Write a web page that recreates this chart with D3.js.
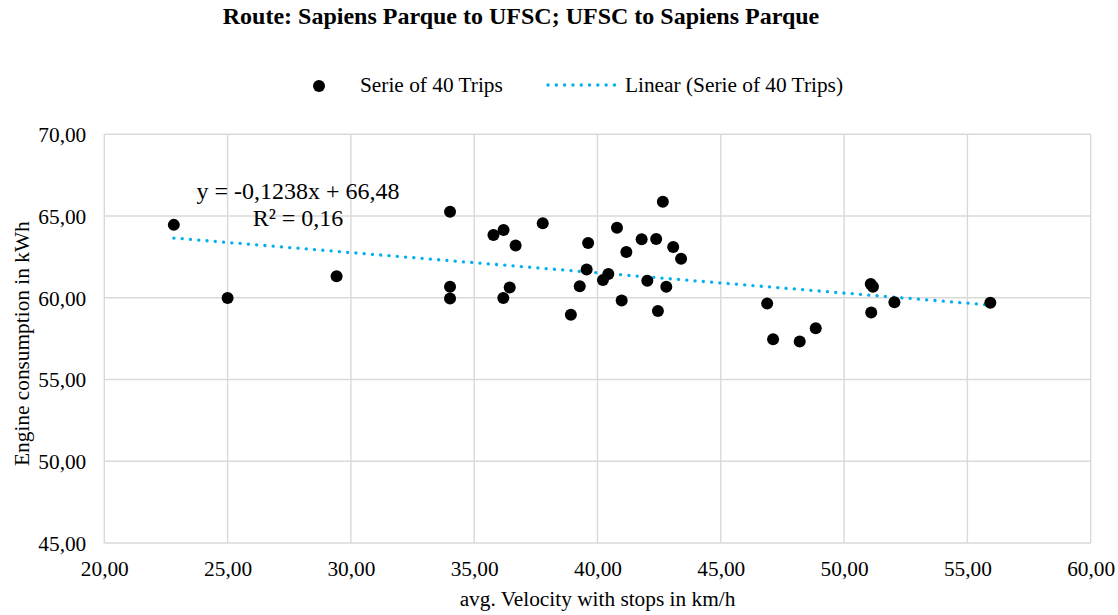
<!DOCTYPE html>
<html>
  <head>
  <title>Route scatter</title>
  </head>
  <body>
  <style>
    body, html {
      margin: 0;
      padding: 0;
      background: #fff;
    }
    text {
      font-family: "Liberation Serif", "Times New Roman", serif;
      fill: #000;
    }
  </style>

  <svg id="svg" width="1118" height="615"></svg>

  <script src="https://cdn.jsdelivr.net/npm/d3@7"></script>
  <script>
    // values
    const velocity = [
      22.82, 25.00, 29.42, 34.02, 34.02, 34.02, 35.78, 36.19, 36.68, 36.18,
      36.44, 37.78, 38.92, 39.28, 39.62, 39.56, 40.22, 40.44, 40.79, 41.17,
      40.98, 41.79, 42.38, 42.65, 42.02, 42.45, 42.79, 43.07, 43.39, 46.88,
      47.12, 48.20, 48.85, 51.08, 51.17, 51.10, 52.04, 55.93
    ]
    const consumption = [
      64.46, 59.98, 61.32, 65.26, 60.68, 59.95, 63.84, 64.14, 63.20, 59.99,
      60.63, 64.56, 58.96, 60.71, 63.35, 61.73, 61.08, 61.46, 64.29, 62.80,
      59.84, 63.58, 63.60, 65.87, 61.04, 59.19, 60.67, 63.10, 62.39, 59.65,
      57.47, 57.33, 58.13, 60.84, 60.67, 59.10, 59.73, 59.69
    ]
    const xTicks = [20, 25, 30, 35, 40, 45, 50, 55, 60]
    const yTicks = [45, 50, 55, 60, 65, 70]
    // trendline shown on the chart
    const trendSlope = -0.1238
    const trendIntercept = 66.48

    const points = velocity.map((v, i) => ({ x: v, y: consumption[i] }))
    const fmt = d => d3.format('.2f')(d).replace('.', ',')

    const svg = d3.select('#svg')
    const plotLeft = 104.3
    const plotRight = 1090.7
    const plotTop = 134.3
    const plotBottom = 543

    const xScale = d3.scaleLinear().domain([20, 60]).range([plotLeft, plotRight])
    const yScale = d3.scaleLinear().domain([45, 70]).range([plotBottom, plotTop])

    // gridlines
    const grid = svg.append('g')
    grid.selectAll('.vx')
      .data(xTicks)
      .join('line')
      .attr('x1', d => xScale(d)).attr('x2', d => xScale(d))
      .attr('y1', plotTop).attr('y2', plotBottom)
      .attr('stroke', '#d9d9d9')
      .attr('stroke-width', 1.4)
    grid.selectAll('.hy')
      .data(yTicks)
      .join('line')
      .attr('x1', plotLeft).attr('x2', plotRight)
      .attr('y1', d => yScale(d)).attr('y2', d => yScale(d))
      .attr('stroke', '#d9d9d9')
      .attr('stroke-width', 1.4)

    // axes (labels only)
    const bottomAxis = d3.axisBottom(xScale).tickValues(xTicks).tickFormat(fmt).tickSize(0).tickPadding(18)
    const leftAxis = d3.axisLeft(yScale).tickValues(yTicks).tickFormat(fmt).tickSize(0).tickPadding(18)
    const gx = svg.append('g')
      .attr('transform', `translate(0, ${plotBottom})`)
      .call(bottomAxis)
    const gy = svg.append('g')
      .attr('transform', `translate(${plotLeft}, 0)`)
      .call(leftAxis)
    gx.select('.domain').remove()
    gy.select('.domain').remove()
    svg.selectAll('.tick text')
      .attr('fill', '#000')
      .style('font-family', '"Liberation Serif", serif')
      .style('font-size', '21.33px')
    gy.selectAll('.tick text').attr('dy', '0.34em')
    gx.selectAll('.tick text').attr('dy', '0.7em')

    // trendline
    const xr = d3.extent(velocity)
    const trend = xr.map(x => ({ x: x, y: trendSlope * x + trendIntercept }))
    const linegen = d3.line()
      .x(d => xScale(d.x))
      .y(d => yScale(d.y))
    svg.append('path')
      .attr('d', linegen(trend))
      .attr('fill', 'none')
      .attr('stroke', '#00b0f0')
      .attr('stroke-width', 3.3)
      .attr('stroke-linecap', 'round')
      .attr('stroke-dasharray', '0.1 8.2')

    // points
    svg.append('g')
      .selectAll('circle')
      .data(points)
      .join('circle')
      .attr('cx', d => xScale(d.x))
      .attr('cy', d => yScale(d.y))
      .attr('r', 6)
      .attr('fill', '#000')

    // equation label
    const eq = svg.append('g')
    eq.append('text')
      .attr('x', 298).attr('y', 199)
      .attr('text-anchor', 'middle')
      .style('font-size', '24px')
      .text('y = -0,1238x + 66,48')
    eq.append('text')
      .attr('x', 298).attr('y', 226)
      .attr('text-anchor', 'middle')
      .style('font-size', '24px')
      .text('R² = 0,16')

    // title
    svg.append('text')
      .attr('x', 521).attr('y', 24)
      .attr('text-anchor', 'middle')
      .style('font-size', '24px')
      .style('font-weight', 'bold')
      .text('Route: Sapiens Parque to UFSC; UFSC to Sapiens Parque')

    // axis titles
    svg.append('text')
      .attr('x', (plotLeft + plotRight) / 2).attr('y', 606)
      .attr('text-anchor', 'middle')
      .style('font-size', '21.33px')
      .text('avg. Velocity with stops in km/h')
    svg.append('text')
      .attr('transform', `translate(29, ${(plotTop + plotBottom) / 2 + 5}) rotate(-90)`)
      .attr('text-anchor', 'middle')
      .style('font-size', '21.33px')
      .text('Engine consumption in kWh')

    // legend
    const legend = svg.append('g').attr('class', 'legend')
    legend.append('circle')
      .attr('cx', 319).attr('cy', 86).attr('r', 6)
      .attr('fill', '#000')
    legend.append('text')
      .attr('x', 360).attr('y', 92)
      .style('font-size', '21.33px')
      .text('Serie of 40 Trips')
    legend.append('line')
      .attr('x1', 548).attr('x2', 617)
      .attr('y1', 85).attr('y2', 85)
      .attr('stroke', '#00b0f0')
      .attr('stroke-width', 3.3)
      .attr('stroke-linecap', 'round')
      .attr('stroke-dasharray', '0.1 8.2')
    legend.append('text')
      .attr('x', 625).attr('y', 92)
      .style('font-size', '21.33px')
      .text('Linear (Serie of 40 Trips)')
  </script>
  </body>
</html>
